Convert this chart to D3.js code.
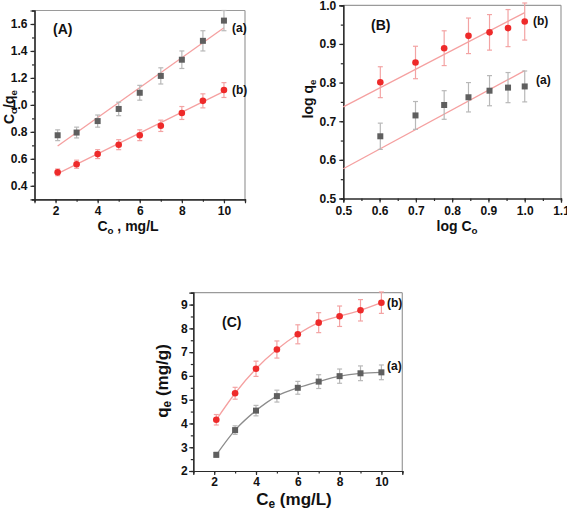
<!DOCTYPE html>
<html><head><meta charset="utf-8">
<script src="https://cdn.jsdelivr.net/npm/d3@7"></script>
<style>
body{margin:0;background:#fff;}
svg{display:block;font-family:"Liberation Sans",Arial,sans-serif;font-weight:bold;}
</style></head><body>
<svg id="c" width="567" height="510"></svg>
<script>
// ---------- DATA ----------
const concA = [2.1, 3, 4, 5, 6, 7, 8, 9, 10];
const aA = [0.775, 0.795, 0.88, 0.97, 1.09, 1.215, 1.335, 1.475, 1.625];
const aAerr = [0.04, 0.04, 0.045, 0.05, 0.055, 0.06, 0.065, 0.075, 0.075];
const bA = [0.50, 0.56, 0.635, 0.705, 0.775, 0.845, 0.94, 1.03, 1.11];
const bAerr = [0.025, 0.03, 0.033, 0.037, 0.04, 0.042, 0.048, 0.052, 0.055];
const fitA_a = [[2.1, 0.695], [10, 1.572]];
const fitA_b = [[2.1, 0.49], [10, 1.10]];

const logC = [0.602, 0.699, 0.778, 0.845, 0.903, 0.954, 1.0];
const aB = [0.661, 0.715, 0.742, 0.762, 0.779, 0.787, 0.790];
const aBerr = [0.034, 0.036, 0.037, 0.038, 0.039, 0.039, 0.04];
const bB = [0.801, 0.852, 0.889, 0.921, 0.930, 0.941, 0.958];
const bBerr = [0.04, 0.042, 0.045, 0.046, 0.046, 0.048, 0.048];
const fitB_a = [[0.5, 0.577], [1.0, 0.831]];
const fitB_b = [[0.5, 0.737], [1.0, 0.981]];

const ceC = [2.1, 3, 4, 5, 6, 7, 8, 9, 10];
const aC = [2.68, 3.72, 4.54, 5.15, 5.5, 5.76, 5.99, 6.11, 6.15];
const aCerr = [0.1, 0.18, 0.22, 0.25, 0.27, 0.29, 0.3, 0.31, 0.31];
const bC = [4.155, 5.27, 6.30, 7.11, 7.75, 8.24, 8.51, 8.76, 9.08];
const bCerr = [0.22, 0.25, 0.32, 0.36, 0.4, 0.42, 0.43, 0.45, 0.45];

const ticksAx = [2, 4, 6, 8, 10];
const ticksAy = [0.4, 0.6, 0.8, 1.0, 1.2, 1.4, 1.6];
const ticksBx = [0.5, 0.6, 0.7, 0.8, 0.9, 1.0, 1.1];
const ticksBy = [0.5, 0.6, 0.7, 0.8, 0.9, 1.0];
const ticksCx = [2, 4, 6, 8, 10];
const ticksCy = [2, 3, 4, 5, 6, 7, 8, 9];

// ---------- STYLE ----------
const GRAY = "#5f5f5f", GRAYERR = "#b8b8b8";
const RED = "#ee2a2a", REDERR = "#f3a3a3", FIT = "#f5a0a0";
const AXIS = "#2a2a2a", FRAME = "#9a9a9a";

const svg = d3.select("#c");

function panel(opt) {
  const x = d3.scaleLinear().domain(opt.xd).range(opt.xr);
  const y = d3.scaleLinear().domain(opt.yd).range(opt.yr);
  const g = svg.append("g");
  g.append("line").attr("x1", opt.xr[0]).attr("x2", opt.xr[1]).attr("y1", opt.yr[1]).attr("y2", opt.yr[1])
    .attr("stroke", FRAME).attr("stroke-width", 1.2);
  g.append("line").attr("x1", opt.xr[1]).attr("x2", opt.xr[1]).attr("y1", opt.yr[0]).attr("y2", opt.yr[1])
    .attr("stroke", FRAME).attr("stroke-width", 1.2);
  const xMinor = d3.range(opt.xd[0], opt.xd[1] + 1e-9, opt.xminor);
  const yMinor = d3.range(opt.yd[0], opt.yd[1] + 1e-9, opt.yminor);
  const xa = g.append("g").attr("transform", `translate(0,${opt.yr[0]})`)
    .call(d3.axisBottom(x).tickValues(xMinor).tickSize(2.5).tickFormat(""));
  const ya = g.append("g").attr("transform", `translate(${opt.xr[0]},0)`)
    .call(d3.axisLeft(y).tickValues(yMinor).tickSize(2.5).tickFormat(""));
  const xM = g.append("g").attr("transform", `translate(0,${opt.yr[0]})`)
    .call(d3.axisBottom(x).tickValues(opt.xt).tickSize(4).tickPadding(opt.xpad).tickFormat(opt.xf));
  const yM = g.append("g").attr("transform", `translate(${opt.xr[0]},0)`)
    .call(d3.axisLeft(y).tickValues(opt.yt).tickSize(4).tickPadding(opt.ypad).tickFormat(opt.yf));
  [xa, ya, xM, yM].forEach(a => {
    a.selectAll("path,line").attr("stroke", AXIS).attr("stroke-width", 1.2);
    a.selectAll("text").attr("fill", "#111").attr("font-size", opt.fs || 12)
      .attr("font-family", "Liberation Sans, Arial, sans-serif").attr("font-weight", "bold");
  });
  return {g, x, y};
}

function fitLine(p, pts, color) {
  p.g.append("path").datum(pts)
    .attr("d", d3.line().x(d => p.x(d[0])).y(d => p.y(d[1])))
    .attr("fill", "none").attr("stroke", color).attr("stroke-width", 1.3);
}
function curve(p, xs, ys, color) {
  p.g.append("path").datum(xs.map((v, i) => [v, ys[i]]))
    .attr("d", d3.line().curve(d3.curveMonotoneX).x(d => p.x(d[0])).y(d => p.y(d[1])))
    .attr("fill", "none").attr("stroke", color).attr("stroke-width", 1.3);
}
function errs(p, xs, ys, es, color) {
  const gg = p.g.append("g").attr("stroke", color).attr("stroke-width", 1.2);
  xs.forEach((v, i) => {
    const cx = p.x(v), t = p.y(ys[i] + es[i]), b = p.y(ys[i] - es[i]);
    gg.append("line").attr("x1", cx).attr("x2", cx).attr("y1", t).attr("y2", b);
    gg.append("line").attr("x1", cx - 2.5).attr("x2", cx + 2.5).attr("y1", t).attr("y2", t);
    gg.append("line").attr("x1", cx - 2.5).attr("x2", cx + 2.5).attr("y1", b).attr("y2", b);
  });
}
function squares(p, xs, ys, color) {
  p.g.append("g").selectAll("rect").data(xs).join("rect")
    .attr("x", (d) => p.x(d) - 3).attr("y", (d, i) => p.y(ys[i]) - 3)
    .attr("width", 6).attr("height", 6).attr("fill", color);
}
function circles(p, xs, ys, color) {
  p.g.append("g").selectAll("circle").data(xs).join("circle")
    .attr("cx", d => p.x(d)).attr("cy", (d, i) => p.y(ys[i])).attr("r", 3.3).attr("fill", color);
}
function label(x, y, parts, fs, rotate) {
  const t = svg.append("text").attr("font-size", fs).attr("fill", "#111")
    .attr("text-anchor", "middle");
  if (rotate) t.attr("transform", `translate(${x},${y}) rotate(-90)`);
  else t.attr("x", x).attr("y", y);
  parts.forEach(pt => {
    if (typeof pt === "string") t.append("tspan").text(pt);
    else t.append("tspan").attr("font-size", fs * 0.7).attr("baseline-shift", "-28%").text(pt.sub);
  });
  return t;
}
function txt(x, y, s, fs) {
  svg.append("text").attr("x", x).attr("y", y).attr("font-size", fs).attr("fill", "#111").text(s);
}

// ---------- PANEL A ----------
const fmt1 = d3.format(".1f");
const A = panel({xd: [1, 11], yd: [0.3, 1.7], xr: [34.5, 245], yr: [199.3, 10.5],
  xt: ticksAx, yt: ticksAy, xminor: 1, yminor: 0.1, xf: d3.format("d"), yf: fmt1, xpad: 3.5, ypad: 3});
fitLine(A, fitA_a, FIT); fitLine(A, fitA_b, FIT);
errs(A, concA, aA, aAerr, GRAYERR); errs(A, concA, bA, bAerr, REDERR);
squares(A, concA, aA, GRAY); circles(A, concA, bA, RED);
txt(53, 34, "(A)", 14);
txt(232, 32, "(a)", 12);
txt(232, 94, "(b)", 12);
label(128, 231, ["C", {sub: "o"}, " , mg/L"], 14, false);
label(14, 107, ["C", {sub: "o"}, "/q", {sub: "e"}], 14, true);

// ---------- PANEL B ----------
const B = panel({xd: [0.5, 1.1], yd: [0.5, 1.0], xr: [343.3, 561], yr: [198.5, 5.3],
  xt: ticksBx, yt: ticksBy, xminor: 0.05, yminor: 0.05, xf: fmt1, yf: fmt1, xpad: 3.5, ypad: 3});
fitLine(B, fitB_a, FIT); fitLine(B, fitB_b, FIT);
errs(B, logC, aB, aBerr, GRAYERR); errs(B, logC, bB, bBerr, REDERR);
squares(B, logC, aB, GRAY); circles(B, logC, bB, RED);
txt(371, 30, "(B)", 14);
txt(533, 25, "(b)", 12);
txt(536, 84, "(a)", 12);
label(457, 231, ["log C", {sub: "o"}], 14, false);
label(313, 99, ["log q", {sub: "e"}], 14, true);

// ---------- PANEL C ----------
const C = panel({xd: [1, 11], yd: [2, 9.5], xr: [193.3, 402.3], yr: [471, 292.7],
  xt: ticksCx, yt: ticksCy, xminor: 1, yminor: 0.5, xf: d3.format("d"), yf: d3.format("d"), xpad: 2, ypad: 1.5});
curve(C, ceC, aC, "#8c8c8c"); curve(C, ceC, bC, FIT);
errs(C, ceC, aC, aCerr, GRAYERR); errs(C, ceC, bC, bCerr, REDERR);
squares(C, ceC, aC, GRAY); circles(C, ceC, bC, RED);
txt(222, 327, "(C)", 14);
txt(387, 307, "(b)", 12);
txt(387, 370, "(a)", 12);
label(294, 505, ["C", {sub: "e"}, " (mg/L)"], 17, false);
label(168, 381, ["q", {sub: "e"}, " (mg/g)"], 17, true);
</script>
</body></html>
